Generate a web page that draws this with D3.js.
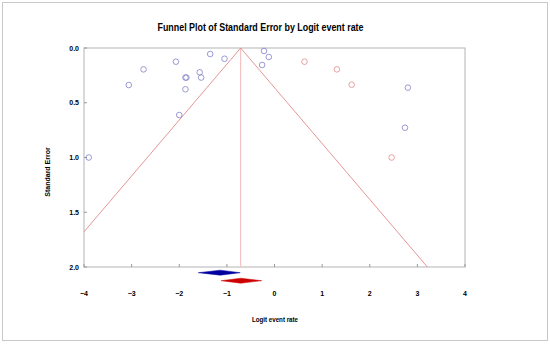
<!DOCTYPE html>
<html><head><meta charset="utf-8">
<script src="https://cdn.jsdelivr.net/npm/d3@7"></script>
<style>body{margin:0;background:#fff}svg{display:block}text{font-family:Arial,"Liberation Sans",sans-serif}</style>
</head><body><svg id="c" width="550" height="344"></svg>
<script>
const observedX = [-3.9,-3.06,-2.75,-2.07,-1.87,-1.85,-1.87,-2.0,-1.57,-1.54,-1.35,-1.05,-0.22,-0.12,-0.26,2.80,2.74];
const observedSE = [1.0,0.338,0.195,0.125,0.27,0.27,0.377,0.612,0.222,0.27,0.055,0.098,0.027,0.082,0.155,0.362,0.728];
const imputedX = [0.63,1.31,1.62,2.46];
const imputedSE = [0.125,0.195,0.335,1.0];
const observedSummary = {lo:-1.6, mid:-1.14, hi:-0.72};
const adjustedSummary = {lo:-1.12, mid:-0.71, hi:-0.27};
const funnelCenter = -0.71;
const xTicks = [-4,-3,-2,-1,0,1,2,3,4];
const yTicks = [0,0.5,1.0,1.5,2.0];

const svg = d3.select("#c");
svg.append("rect").attr("x",2.5).attr("y",2.5).attr("width",545).attr("height",338)
  .attr("fill","none").attr("stroke","#c8c8c8");
const x = d3.scaleLinear().domain([-4,4]).range([84,465]);
const y = d3.scaleLinear().domain([0,2]).range([48,267]);

svg.append("text").attr("x",260.5).attr("y",30.5).attr("text-anchor","middle")
  .attr("font-size",10.5).attr("font-weight","bold")
  .attr("textLength",206).attr("lengthAdjust","spacingAndGlyphs")
  .text("Funnel Plot of Standard Error by Logit event rate");

// frame
svg.append("rect").attr("x",84).attr("y",48).attr("width",381).attr("height",219)
  .attr("fill","none").attr("stroke","#b4b4b4").attr("stroke-width",1);

xTicks.forEach(t=>{
  svg.append("line").attr("x1",x(t)).attr("x2",x(t)).attr("y1",267).attr("y2",264).attr("stroke","#999");
  svg.append("text").attr("x",x(t)).attr("y",296).attr("text-anchor","middle")
    .attr("font-size",7).attr("font-weight","bold").text(d3.format("d")(t));
});
yTicks.forEach(t=>{
  svg.append("line").attr("x1",84).attr("x2",87).attr("y1",y(t)).attr("y2",y(t)).attr("stroke","#999");
  svg.append("text").attr("x",79).attr("y",y(t)+2.5).attr("text-anchor","end")
    .attr("font-size",7).attr("font-weight","bold").text(d3.format(".1f")(t));
});
svg.append("text").attr("x",275).attr("y",322).attr("text-anchor","middle")
  .attr("font-size",7).attr("font-weight","bold")
  .attr("textLength",46).attr("lengthAdjust","spacingAndGlyphs").text("Logit event rate");
svg.append("text").attr("transform","translate(50,172) rotate(-90)").attr("text-anchor","middle")
  .attr("font-size",7).attr("font-weight","bold").text("Standard Error");

const g = svg.append("g");
g.append("line").attr("x1",x(funnelCenter)).attr("x2",x(funnelCenter)).attr("y1",y(0)).attr("y2",y(2))
  .attr("stroke","#f2b8b8").attr("stroke-width",1);
const leftEndSE = (funnelCenter - (-4))/1.96;
const rightEndX = funnelCenter + 1.96*2;
g.append("path").attr("d", d3.line()([[x(-4),y(leftEndSE)],[x(funnelCenter),y(0)],[x(rightEndX),y(2)]]))
  .attr("fill","none").attr("stroke","#e07a7a").attr("stroke-width",0.8);

observedX.forEach((v,i)=>{
  g.append("circle").attr("cx",x(v)).attr("cy",y(observedSE[i])).attr("r",2.8)
    .attr("fill","none").attr("stroke","#8080cc").attr("stroke-width",0.8);
});
imputedX.forEach((v,i)=>{
  g.append("circle").attr("cx",x(v)).attr("cy",y(imputedSE[i])).attr("r",2.8)
    .attr("fill","none").attr("stroke","#e08a8a").attr("stroke-width",0.8);
});

function diamond(s, yc, col){
  svg.append("path").attr("d", d3.line()([[x(s.lo),yc],[x(s.mid),yc-2.5],[x(s.hi),yc],[x(s.mid),yc+2.5]])+"Z")
    .attr("fill",col).attr("stroke",col).attr("stroke-width",0.5);
}
diamond(observedSummary, 272.7, "#0000a0");
diamond(adjustedSummary, 280.7, "#cc0000");
</script></body></html>
